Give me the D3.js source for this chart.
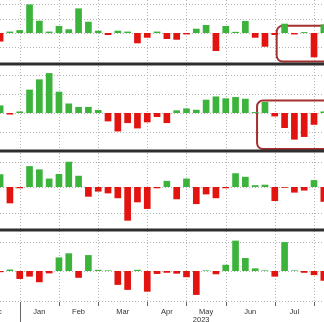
<!DOCTYPE html>
<html><head><meta charset="utf-8">
<script src="https://cdn.jsdelivr.net/npm/d3@7"></script>
<style>html,body{margin:0;padding:0;background:#fff;overflow:hidden}svg{display:block;will-change:transform}</style>
</head><body><svg id="c" width="324" height="322"></svg>
<script>
// Weekly categories (Fridays); domain includes off-screen weeks for month bands
const allWeeks = ["2022-12-02","2022-12-09","2022-12-16","2022-12-23","2022-12-30",
  "2023-01-06","2023-01-13","2023-01-20","2023-01-27",
  "2023-02-03","2023-02-10","2023-02-17","2023-02-24",
  "2023-03-03","2023-03-10","2023-03-17","2023-03-24","2023-03-31",
  "2023-04-07","2023-04-14","2023-04-21","2023-04-28",
  "2023-05-05","2023-05-12","2023-05-19","2023-05-26",
  "2023-06-02","2023-06-09","2023-06-16","2023-06-23","2023-06-30",
  "2023-07-07","2023-07-14","2023-07-21","2023-07-28",
  "2023-08-04","2023-08-11","2023-08-18","2023-08-25","2023-09-01"];
const dataWeeks = allWeeks.slice(3, 37); // Dec 23 .. Aug 11

const series1 = [-6,1,2,20,8.6,1,4.9,2.6,17.2,7.9,1.6,-1.4,1.6,1,-7.2,-3.3,1,-4.2,-4.7,-1,3,5.6,-12.6,4.9,0.8,8.4,-3.3,-9.6,-1.4,6.5,-1,0.6,-17,6];
const series2 = [4,-0.8,0.8,12.3,17.7,21,11.2,5,3.2,3.2,1.6,-4.4,-9.7,-5.3,-8.1,-4.9,-2.1,-5.3,1.4,2.4,1.7,7,8.7,7.7,8.4,7.5,0.5,5.8,-1.8,-7.9,-14,-12.6,-6.2,0.8];
const series3 = [5,-6.4,-0.5,8.2,6.9,3.3,5.1,9.9,4.4,-3.8,-1.8,-2.5,-4.4,-13.2,-6,-8.6,-0.5,2.4,-4.8,3.3,-6.7,-2.9,-4.4,-0.5,5.4,4,0.7,0.9,-5.5,-0.3,-2.2,-1.4,2.7,-5.8];
const series4 = [-0.4,0.5,-2.7,-1.9,-3.8,-0.8,4.6,6,-2.3,5.4,0.4,0.2,-4.7,-6.4,0.4,-7,-1,-0.6,-0.9,-2.1,-8.1,0.2,-1.1,2.1,10.3,4.4,0.9,0.2,-1.9,9.8,0.2,-0.6,-1.4,-3.3];

const monthStarts = ["2022-12-02","2023-01-06","2023-02-03","2023-03-03","2023-04-07","2023-05-05","2023-06-02","2023-07-07","2023-08-04"];
const monthLabels = ["Dec","Jan","Feb","Mar","Apr","May","Jun","Jul"];
const yearLabel = "2023";
const gridTicks1 = [-10,0,10,20], gridTicks2 = [-10,0,10,20], gridTicks3 = [-10,0,10], gridTicks4 = [-10,0,10];
// highlight boxes: [panel index, first week, top value, bottom value]
const highlights = [[0,"2023-07-14",5,-20],[1,"2023-06-30",6.6,-19]];

const GREEN = "#3cb43c", RED = "#e3130f";
const svg = d3.select("#c");
const step = 9.81;
const start = 0.1 - 3*step - step/2;
const x = d3.scaleBand().domain(allWeeks).range([start, start + allWeeks.length*step]).paddingInner(0.32).paddingOuter(0.16);
const cx = d => x(d) + x.bandwidth()/2;

const panels = [
  {vals: series1, ticks: gridTicks1, y: d3.scaleLinear().domain([-20,20]).range([61.6,4.4])},
  {vals: series2, ticks: gridTicks2, y: d3.scaleLinear().domain([-20,20]).range([151,75])},
  {vals: series3, ticks: gridTicks3, y: d3.scaleLinear().domain([-10,10]).range([212.5,161.5])},
  {vals: series4, ticks: gridTicks4, y: d3.scaleLinear().domain([-10,10]).range([300.5,241.5])}
];

const grid = svg.append("g");
grid.selectAll("line.v").data(monthStarts.slice(1)).join("line")
  .attr("x1", d => Math.round(cx(d))+0.5).attr("x2", d => Math.round(cx(d))+0.5)
  .attr("y1", 0).attr("y2", 303)
  .attr("stroke", "#b5b5b5").attr("stroke-dasharray", "1,2");
panels.forEach(p => {
  grid.selectAll(null).data(p.ticks).join("line")
    .attr("x1", 0).attr("x2", 324)
    .attr("y1", d => Math.round(p.y(d))+0.5).attr("y2", d => Math.round(p.y(d))+0.5)
    .attr("stroke", "#b5b5b5").attr("stroke-dasharray", "1,2");
});

highlights.forEach(([pi, wk, top, bot]) => {
  const p = panels[pi];
  svg.append("rect")
    .attr("x", cx(wk) - step*0.4 - 4).attr("y", p.y(top))
    .attr("width", 120).attr("height", p.y(bot) - p.y(top))
    .attr("rx", 6).attr("ry", 6)
    .attr("fill", "none").attr("stroke", "#a3312f").attr("stroke-width", 2);
});

panels.forEach(p => {
  svg.append("g").selectAll("rect").data(p.vals).join("rect")
    .attr("x", (d,i) => x(dataWeeks[i]))
    .attr("width", x.bandwidth())
    .attr("y", d => p.y(Math.max(0,d)))
    .attr("height", d => Math.abs(p.y(d) - p.y(0)))
    .attr("fill", d => d >= 0 ? GREEN : RED);
});

[64,151,230].forEach(yy => {
  svg.append("line").attr("x1",0).attr("x2",324).attr("y1",yy).attr("y2",yy)
    .attr("stroke","#2e2e2e").attr("stroke-width",3);
});

const ax = svg.append("g");
ax.selectAll("line").data(monthStarts.slice(1)).join("line")
  .attr("x1", d => Math.round(cx(d))+0.5).attr("x2", d => Math.round(cx(d))+0.5)
  .attr("y1", 302).attr("y2", d => d === "2023-01-06" ? 322 : 306)
  .attr("stroke", "#666").attr("stroke-width", 1);
ax.selectAll("text").data(monthLabels).join("text")
  .attr("x", (d,i) => (cx(monthStarts[i]) + cx(monthStarts[i+1]))/2)
  .attr("y", 313.5)
  .attr("text-anchor","middle")
  .attr("font-family","'Liberation Sans', Arial, sans-serif")
  .attr("font-size", 7.5).attr("fill","#333").text(d => d);
svg.append("text")
  .attr("x", cx("2023-05-12") + step/2).attr("y", 321.5)
  .attr("text-anchor","middle")
  .attr("font-family","'Liberation Sans', Arial, sans-serif")
  .attr("font-size", 7.5).attr("fill","#333").text(yearLabel);
</script></body></html>
